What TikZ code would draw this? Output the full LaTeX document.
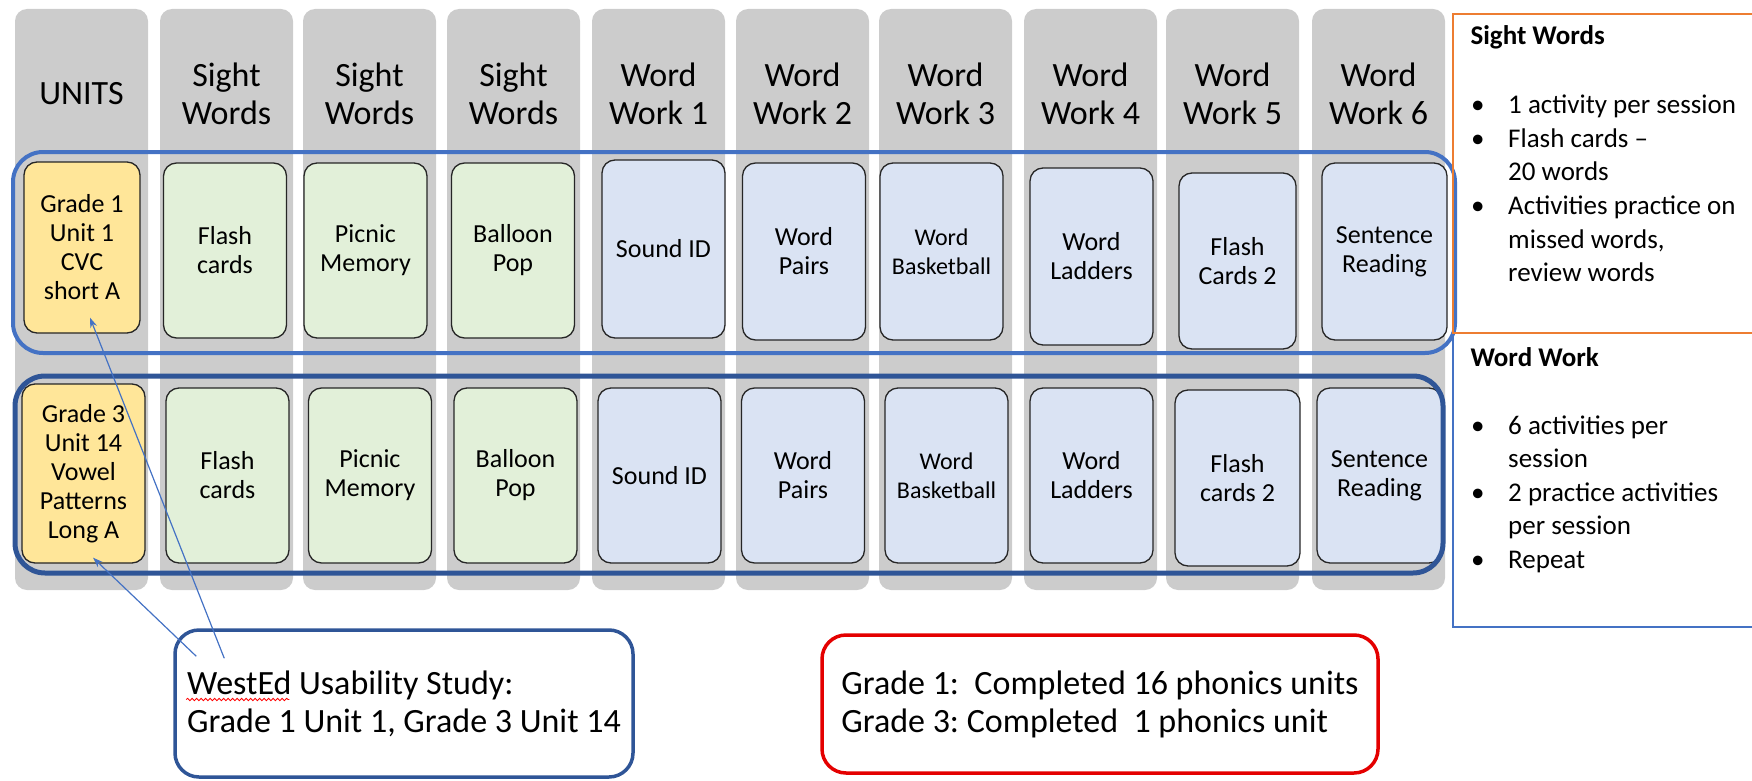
\documentclass[tikz,border=0pt]{standalone}
\usepackage{fontspec}
\setmainfont{Carlito}
\usetikzlibrary{arrows.meta, positioning, calc, decorations.pathmorphing}

\definecolor{colgray}{RGB}{204,204,204}
\definecolor{unityellow}{RGB}{255,230,153}
\definecolor{sightgreen}{RGB}{226,240,217}
\definecolor{wordblue}{RGB}{218,227,243}
\definecolor{officeblue}{RGB}{68,114,196}
\definecolor{darkblue}{RGB}{47,85,151}
\definecolor{officeorange}{RGB}{237,125,49}
\definecolor{alertred}{RGB}{228,0,0}

\newcommand{\cardfont}{\fontsize{26}{29}\selectfont}
\newcommand{\smallcardfont}{\fontsize{24}{29}\selectfont}
\newcommand{\headfont}{\fontsize{34}{38}\selectfont}
\newcommand{\notefont}{\fontsize{34}{38}\selectfont}
\newcommand{\panelfont}{\fontsize{27}{33.6}\selectfont}

\tikzset{
  colstrip/.style={fill=colgray, rounded corners=12pt, minimum width=133pt, minimum height=581pt, inner sep=0pt},
  header/.style={align=center, font=\headfont},
  card/.style={draw=black!85, line width=1.3pt, rounded corners=13pt, align=center, inner sep=0pt, font=\cardfont, minimum width=123pt, minimum height=175pt},
  unitcard/.style={card, fill=unityellow},
  sightcard/.style={card, fill=sightgreen},
  workcard/.style={card, fill=wordblue},
  rowbox/.style={rounded corners=30pt},
  note/.style={rounded corners=24pt, line width=3.5pt, inner sep=0pt, align=left, font=\notefont},
  pointer/.style={officeblue, line width=1.2pt, -{Stealth[length=10pt,width=7pt]}},
  squiggle/.style={red, line width=0.8pt, decorate, decoration={snake, amplitude=1.2pt, segment length=4.5pt}},
}

\begin{document}
\frenchspacing
\begin{tikzpicture}[x=1pt, y=-1pt]
    \useasboundingbox (0,0) rectangle (1752,781);

    % gray columns with their headings
    \foreach \cx/\cname/\txt in {81.5/c1/UNITS, 226.5/c2/{Sight\\Words}, 369.5/c3/{Sight\\Words}, 513.5/c4/{Sight\\Words}, 658.5/c5/{Word\\Work 1}, 802.5/c6/{Word\\Work 2}, 945.5/c7/{Word\\Work 3}, 1090.5/c8/{Word\\Work 4}, 1232.5/c9/{Word\\Work 5}, 1378.5/c10/{Word\\Work 6}} {
        \node[colstrip] (\cname) at (\cx,299.5) {};
        \node[header] (h\cname) at (\cx,94) {\txt};
    }

    % first unit row
    \node[unitcard, minimum width=116pt, minimum height=171pt] (unitA) at (82,247.5) {Grade 1\\Unit 1\\CVC\\short A};
    \node[sightcard] (flashA) at (225,250.5) {Flash\\cards};
    \node[sightcard] (picnicA) at (365.5,250.5) {Picnic\\Memory};
    \node[sightcard] (balloonA) at (513,250.5) {Balloon\\Pop};
    \node[workcard, minimum height=178pt] (soundA) at (663.5,249) {Sound ID};
    \node[workcard, minimum height=177pt] (pairsA) at (804,251.5) {Word\\Pairs};
    \node[workcard, minimum height=177pt, font=\smallcardfont] (basketA) at (941.5,251.5) {Word\\Basketball};
    \node[workcard, minimum height=177pt] (laddersA) at (1091.5,256.5) {Word\\Ladders};
    \node[workcard, minimum width=117pt, minimum height=176pt] (flashtwoA) at (1237.5,261) {Flash\\Cards 2};
    \node[workcard, minimum width=125pt, minimum height=177pt] (sentenceA) at (1384.5,251.5) {Sentence\\Reading};

    % second unit row
    \node[unitcard, minimum height=179pt] (unitB) at (83.5,473.5) {Grade 3\\Unit 14\\Vowel\\Patterns\\Long A};
    \node[sightcard] (flashB) at (227.5,475.5) {Flash\\cards};
    \node[sightcard] (picnicB) at (370,475.5) {Picnic\\Memory};
    \node[sightcard] (balloonB) at (515.5,475.5) {Balloon\\Pop};
    \node[workcard] (soundB) at (659.5,475.5) {Sound ID};
    \node[workcard] (pairsB) at (803,475.5) {Word\\Pairs};
    \node[workcard, font=\smallcardfont] (basketB) at (946.5,475.5) {Word\\Basketball};
    \node[workcard] (laddersB) at (1091.5,475.5) {Word\\Ladders};
    \node[workcard, minimum width=125pt, minimum height=176pt] (flashtwoB) at (1237.5,478) {Flash\\cards 2};
    \node[workcard, minimum width=125pt] (sentenceB) at (1379.5,475.5) {Sentence\\Reading};

    \draw[rowbox, officeblue, line width=4pt] (13,152) rectangle (1455,353);
    \draw[rowbox, darkblue, line width=5pt] (15,376) rectangle (1443,573);

    % side panel
    \draw[officeblue, line width=1.2pt] (1453,333) |- (1752,627);
    \draw[officeorange, line width=1.5pt] (1752,14) -| (1453,333) -- (1752,333);
    \node[anchor=west, font=\panelfont\bfseries] (swtitle) at (1467,37) {Sight Words};
    \node[anchor=west, inner sep=0pt, font=\panelfont] (swlist) at (1467,191) {%
        \begin{tabular}{@{}p{41pt}@{}l@{}}
        \hspace{4pt}\textbullet & 1 activity per session\\
        \hspace{4pt}\textbullet & Flash cards –\\
         & 20 words\\
        \hspace{4pt}\textbullet & Activities practice on\\
         & missed words,\\
         & review words
        \end{tabular}};
    \node[anchor=west, font=\panelfont\bfseries] (wwtitle) at (1467,357) {Word Work};
    \node[anchor=west, inner sep=0pt, font=\panelfont] (wwlist) at (1467,494.5) {%
        \begin{tabular}{@{}p{41pt}@{}l@{}}
        \hspace{4pt}\textbullet & 6 activities per\\
         & session\\
        \hspace{4pt}\textbullet & 2 practice activities\\
         & per session\\
        \hspace{4pt}\textbullet & Repeat
        \end{tabular}};

    % notes
    \node[note, draw=darkblue, minimum width=458pt, minimum height=147pt] (study) at (404,703.5) {WestEd Usability Study:\\Grade 1 Unit 1, Grade 3 Unit 14};
    \draw[squiggle] ($(study.west)+(13,-4)$) -- ($(study.west)+(116,-4)$);
    \node[note, draw=alertred, minimum width=556pt, minimum height=138pt] (done) at (1100,704) {Grade 1:\ \ Completed 16 phonics units\\Grade 3: Completed\ \ 1 phonics unit};

    \coordinate (tailA) at ($(study.north west)+(51,30)$);
    \coordinate (tailB) at ($(study.north west)+(23,28)$);
    \draw[pointer] (tailA) -- ($(unitA.south)+(8,-16)$);
    \draw[pointer] (tailB) -- ($(unitB.south)+(9.5,-6)$);
\end{tikzpicture}
\end{document}
